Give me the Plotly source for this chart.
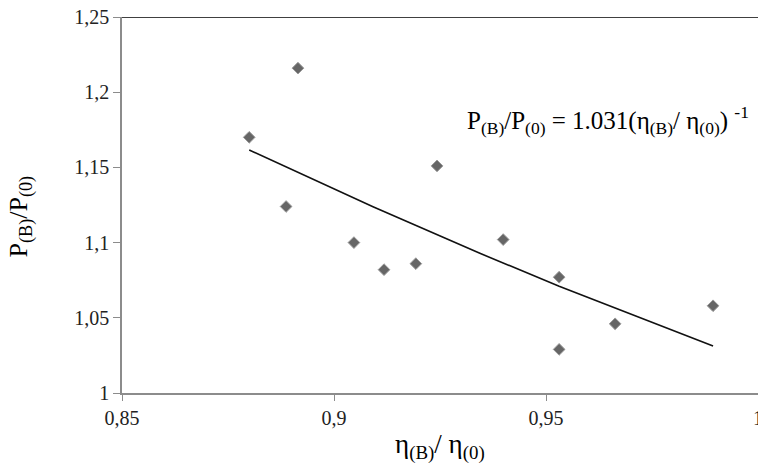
import plotly.graph_objects as go

# scatter data
eta_ratio = [0.880, 0.8915, 0.8887, 0.9047, 0.9118, 0.9193, 0.9243, 0.9399, 0.9531, 0.9531, 0.9663, 0.9894]
p_ratio = [1.170, 1.216, 1.124, 1.100, 1.082, 1.086, 1.151, 1.102, 1.077, 1.029, 1.046, 1.058]

# trend line points
trend_x = [0.880, 0.9092, 0.9344, 0.9531, 0.9894]
trend_y = [1.1616, 1.1239, 1.0929, 1.0710, 1.0313]

x_tickvals = [0.85, 0.9, 0.95, 1.0]
x_ticktext = ["0,85", "0,9", "0,95", "1"]
y_tickvals = [1.0, 1.05, 1.1, 1.15, 1.2, 1.25]
y_ticktext = ["1", "1,05", "1,1", "1,15", "1,2", "1,25"]

serif = "Liberation Serif, Times New Roman, serif"

fig = go.Figure()
fig.add_trace(go.Scatter(
    x=trend_x, y=trend_y, mode="lines",
    line=dict(color="#111111", width=1.6), showlegend=False, hoverinfo="skip"))
fig.add_trace(go.Scatter(
    x=eta_ratio, y=p_ratio, mode="markers",
    marker=dict(symbol="diamond", size=9, color="#666666",
                line=dict(color="#9a9a9a", width=1)),
    showlegend=False))

fig.add_shape(type="line", xref="paper", yref="y", x0=0, x1=1, y0=1.25, y1=1.25,
              line=dict(color="#000000", width=1.5))

fig.add_annotation(
    x=0.931, y=1.1815, xref="x", yref="y", xanchor="left", yanchor="middle",
    showarrow=False,
    text="P<sub>(B)</sub>/P<sub>(0)</sub> = 1.031(η<sub>(B)</sub>/ η<sub>(0)</sub>) <sup>-1</sup>",
    font=dict(family=serif, size=25, color="#000000"))

# axis titles
fig.add_annotation(
    x=0.5, y=-0.09, xref="paper", yref="paper", xanchor="center", yanchor="top",
    showarrow=False, text="η<sub>(B)</sub>/ η<sub>(0)</sub>",
    font=dict(family=serif, size=27, color="#000000"))
fig.add_annotation(
    x=-0.16, y=0.47, xref="paper", yref="paper", xanchor="center", yanchor="middle",
    showarrow=False, textangle=-90, text="P<sub>(B)</sub>/P<sub>(0)</sub>",
    font=dict(family=serif, size=26, color="#000000"))

fig.update_layout(
    width=758, height=470,
    margin=dict(l=122, r=0, t=17, b=77, autoexpand=False),
    paper_bgcolor="white", plot_bgcolor="white",
    font=dict(family=serif, color="#000000"),
    xaxis=dict(
        range=[0.85, 1.0], tickvals=x_tickvals, ticktext=x_ticktext, automargin=False,
        showgrid=False, zeroline=False, showline=True, linecolor="#8c8c8c", linewidth=1.5,
        ticks="outside", ticklen=6, tickcolor="#8c8c8c",
        tickfont=dict(family=serif, size=20, color="#222222"),
        ticklabeloverflow="allow"),
    yaxis=dict(
        range=[1.0, 1.25], tickvals=y_tickvals, ticktext=y_ticktext, automargin=False,
        showgrid=False, zeroline=False, showline=True, linecolor="#8c8c8c", linewidth=1.5,
        ticks="outside", ticklen=7, tickcolor="#8c8c8c",
        tickfont=dict(family=serif, size=20, color="#222222")),
)

fig.write_html("out.html")
